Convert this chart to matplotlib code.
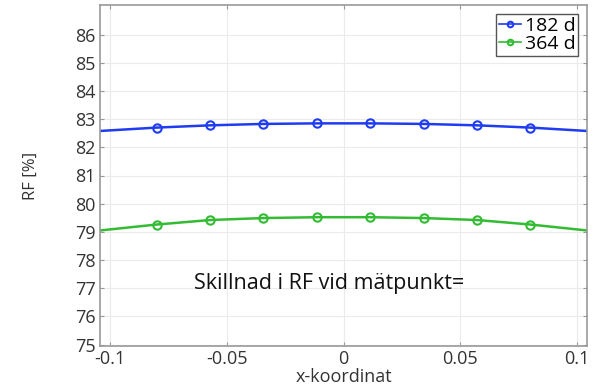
import matplotlib
matplotlib.use('Agg')
import matplotlib.pyplot as plt

plt.rcParams['font.family'] = ['Open Sans', 'DejaVu Sans']

# x-positions of the curve (edges + measuring points)
x_line = [-0.1042, -0.08, -0.0571, -0.0343, -0.0114, 0.0114, 0.0343, 0.0571, 0.08, 0.1042]
rf_182 = [82.58, 82.70, 82.78, 82.83, 82.85, 82.85, 82.83, 82.78, 82.70, 82.58]
rf_364 = [79.05, 79.26, 79.42, 79.49, 79.52, 79.52, 79.49, 79.42, 79.26, 79.05]
labels = ['182 d', '364 d']
colors = ['#1f3cf2', '#33bb33']

xticks = [-0.1, -0.05, 0, 0.05, 0.1]
xticklabels = ['-0.1', '-0.05', '0', '0.05', '0.1']
yticks = list(range(75, 87))

fig = plt.figure(figsize=(5.95, 3.9), dpi=100)
ax = fig.add_axes([100 / 595, 44 / 390, 487 / 595, 341 / 390])

for y, lab, c in zip([rf_182, rf_364], labels, colors):
    ax.plot(x_line, y, color=c, linewidth=1.8, marker='o', markersize=6,
            markerfacecolor='none', markeredgewidth=1.5,
            markevery=list(range(1, 9)), label=lab)

ax.set_xlim(-0.1042, 0.1042)
ax.set_ylim(74.95, 87.05)
ax.set_xticks(xticks)
ax.set_xticklabels(xticklabels)
ax.set_yticks(yticks)

ax.grid(color='#ebebeb', linewidth=0.8)
ax.set_axisbelow(True)
for s in ax.spines.values():
    s.set_color('#999999')
    s.set_linewidth(1.2)
ax.tick_params(direction='in', length=3, color='#999999', labelsize=13,
               labelcolor='#333333', top=True, right=True, pad=3)

ax.set_xlabel('x-koordinat', fontsize=13, color='#333333', labelpad=0)
ax.set_ylabel('RF [%]', fontsize=12, color='#333333', labelpad=26)

ax.text(-0.006, 77.18, 'Skillnad i RF vid mätpunkt=', fontsize=15.5,
        ha='center', va='center', color='#111111')

leg = ax.legend(loc='upper right', fontsize=14, handlelength=1.1,
                handletextpad=0.2, borderpad=0.15, labelspacing=0.0,
                fancybox=False, framealpha=1, borderaxespad=0.45)
leg.get_frame().set_edgecolor('#555555')
leg.get_frame().set_linewidth(1.0)
for h in leg.get_lines():
    h.set_markersize(4)
    h.set_linewidth(1.2)

fig.savefig('out.png', dpi=100)
